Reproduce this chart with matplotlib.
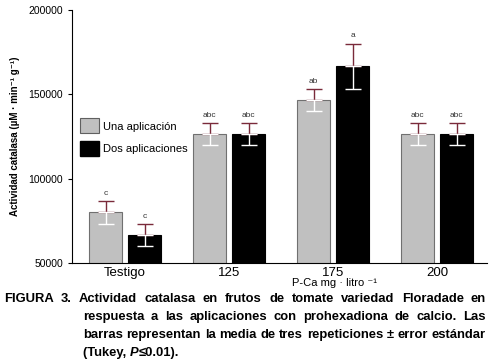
import matplotlib
matplotlib.use("Agg")
import matplotlib.pyplot as plt
from matplotlib.patches import Patch
import numpy as np

plt.rcParams['font.family'] = ['Liberation Sans', 'DejaVu Sans']

# data
grupos = ["Testigo", "125", "175", "200"]
una = [80000, 126500, 146700, 126500]
una_err = [6800, 6700, 6300, 6700]
dos = [66700, 126500, 166700, 126500]
dos_err = [6500, 6700, 13400, 6700]
letras_una = ["c", "abc", "ab", "abc"]
letras_dos = ["c", "abc", "a", "abc"]

W, H = 491, 363
fig = plt.figure(figsize=(W / 100, H / 100), dpi=100)
ax = fig.add_axes([72 / W, 100 / H, 415 / W, 253 / H])

x = np.arange(len(grupos))
off = 0.1875
bw = 0.317
red = "#7a2a3a"

ax.bar(x - off, una, bw, color="#c0c0c0", edgecolor="#707070", linewidth=0.8)
ax.bar(x + off, dos, bw, color="black", edgecolor="black", linewidth=0.8)

for xs, vals, errs, lets in [(x - off, una, una_err, letras_una), (x + off, dos, dos_err, letras_dos)]:
    zeros = [0] * len(vals)
    ax.errorbar(xs, vals, yerr=[zeros, errs], fmt="none", ecolor=red, elinewidth=1, capsize=6, capthick=1)
    ax.errorbar(xs, vals, yerr=[errs, zeros], fmt="none", ecolor="white", elinewidth=1, capsize=6, capthick=1)
    for xi, v, e, l in zip(xs, vals, errs, lets):
        ax.annotate(l, (xi, v + e), xytext=(0, 3), textcoords="offset points",
                    ha="center", va="bottom", fontsize=6, color="#333333")

ax.set_xlim(-0.51, 3.48)
ax.set_ylim(50000, 200000)
ax.set_yticks([50000, 100000, 150000, 200000])
ax.tick_params(axis="y", labelsize=7.5, length=3, width=0.8)
ax.set_xticks(x)
ax.set_xticklabels(grupos, fontsize=9.5)
ax.tick_params(axis="x", length=0, pad=3)
for s in ["top", "right"]:
    ax.spines[s].set_visible(False)
ax.spines["left"].set_linewidth(0.8)
ax.spines["bottom"].set_linewidth(0.8)

ax.set_ylabel("Actividad catalasa (µM · min⁻¹ g⁻¹)", fontsize=7, fontweight="bold", labelpad=6)
fig.text(335 / W, 1 - 283 / H, "P-Ca mg · litro ⁻¹", fontsize=8, ha="center", va="center")

handles = [Patch(facecolor="#c0c0c0", edgecolor="#606060", linewidth=0.8),
           Patch(facecolor="black", edgecolor="black")]
ax.legend(handles, ["Una aplicación", "Dos aplicaciones"], loc="upper left",
          bbox_to_anchor=(4 / 415, 1 - 104 / 253), frameon=False, fontsize=8,
          handlelength=1.7, handleheight=1.7, handletextpad=0.3, labelspacing=0.7,
          borderaxespad=0)

# caption, justified line by line
cap_lines = [
    ("FIGURA 3. Actividad catalasa en frutos de tomate variedad Floradade en", 4, 486, 299),
    ("respuesta a las aplicaciones con prohexadiona de calcio. Las", 83, 486, 317),
    ("barras representan la media de tres repeticiones ± error estándar", 83, 486, 335),
]
renderer = fig.canvas.get_renderer()
for line, x0, x1, yc in cap_lines:
    words = line.split(" ")
    texts = [fig.text(0, 1 - yc / H, w, fontsize=9.4, fontweight="bold", va="center") for w in words]
    widths = [t.get_window_extent(renderer).width for t in texts]
    gap = (x1 - x0 - sum(widths)) / (len(words) - 1)
    pos = x0
    for t, w in zip(texts, widths):
        t.set_x(pos / W)
        pos += w + gap

pos = 83
for s, style in [("(Tukey, ", "normal"), ("P", "italic"), ("≤0.01).", "normal")]:
    t = fig.text(pos / W, 1 - 353 / H, s, fontsize=9.4, fontweight="bold", style=style, va="center")
    pos += t.get_window_extent(renderer).width

fig.savefig("out.png", dpi=100)
